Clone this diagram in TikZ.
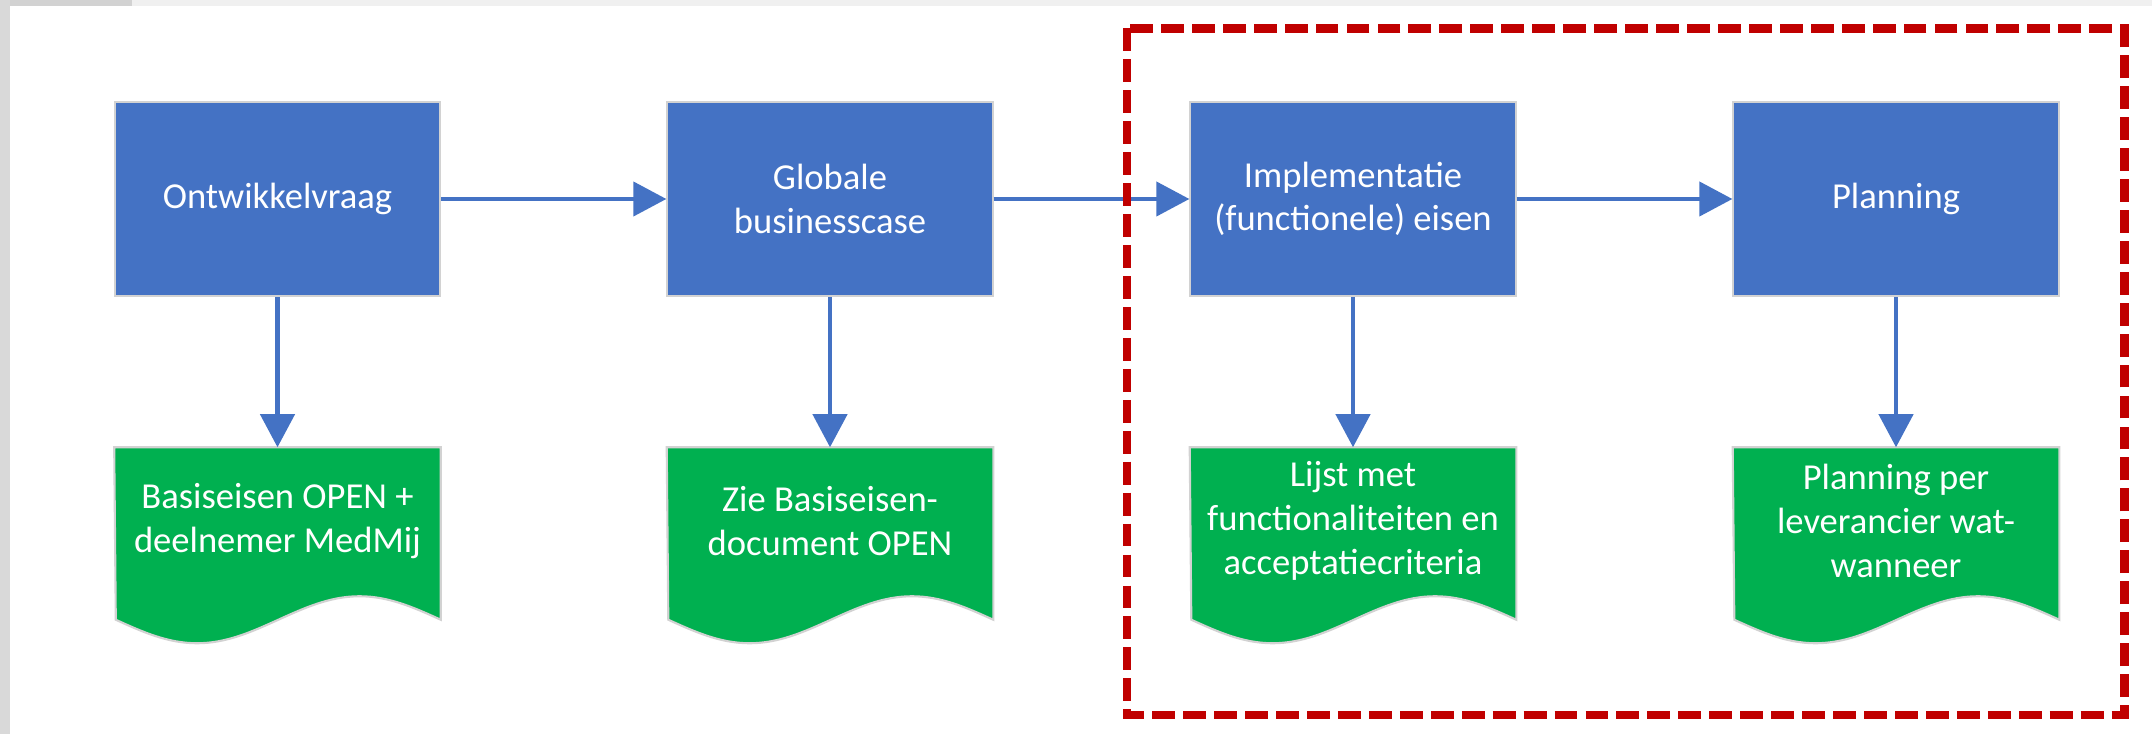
\documentclass[tikz,border=0pt]{standalone}
\usepackage{fontspec}
\setmainfont{Carlito}
\usetikzlibrary{arrows.meta,calc}
\definecolor{obl}{HTML}{4472C4}
\definecolor{ogr}{HTML}{00B050}
\definecolor{ored}{HTML}{C00000}
\begin{document}
\begin{tikzpicture}[x=0.01cm,y=-0.01cm,
  bluebox/.style={fill=obl, draw=gray!35, line width=0.6pt, minimum width=3.25cm,
    minimum height=1.94cm, inner sep=0pt, text=white, align=center,
    font=\fontsize{10.4}{12.4}\selectfont},
  docarea/.style={minimum width=3.25cm, minimum height=1.71cm, inner sep=0pt},
  docfill/.style={fill=ogr, draw=gray!35, line width=0.6pt},
  doctext/.style={text=white, align=center, inner sep=0pt,
    font=\fontsize{10.4}{12.5}\selectfont},
  arr/.style={draw=obl, line width=1.15pt, -{Triangle[length=9.4pt,width=9.7pt]}},
  frame/.style={draw=ored, line width=2.3pt, dash pattern=on 6.5pt off 2.3pt}
]
\useasboundingbox (0,0) rectangle (2152,734);
\fill[white] (0,0) rectangle (2152,734);
\fill[gray!12] (0,0) rectangle (2152,6);
\fill[gray!35] (0,0) rectangle (132,6);
\fill[gray!30] (0,0) rectangle (10,734);

% process boxes
\node[bluebox] (b1) at (277.5,199) {Ontwikkelvraag};
\node[bluebox] (b2) at (830,199) {Globale\\businesscase};
\node[bluebox] (b3) at (1353,199) {Implementatie\\(functionele) eisen};
\node[bluebox] (b4) at (1896,199) {Planning};

% document shapes
\foreach \i/\x in {1/277.5,2/830,3/1353,4/1896}{
  \node[docarea] (d\i) at (\x,533.5) {};
  \path[docfill] (d\i.north west) -- (d\i.north east) -- (d\i.south east)
     sin ++(-81.25,-23.5) cos ++(-81.25,23.5) sin ++(-81.25,23.5) cos ++(-81.25,-23.5) -- cycle;
}
\node[doctext] (t1) at ($(d1.north)+(0,74)$) {Basiseisen OPEN +\\deelnemer MedMij};
\node[doctext] (t2) at ($(d2.north)+(0,74)$) {Zie Basiseisen-\\document OPEN};
\node[doctext] (t3) at ($(d3.north)+(0,74)$) {Lijst met\\functionaliteiten en\\acceptatiecriteria};
\node[doctext] (t4) at ($(d4.north)+(0,74)$) {Planning per\\leverancier wat-\\wanneer};

% connectors
\draw[arr] (b1.east) -- (b2.west);
\draw[arr] (b2.east) -- (b3.west);
\draw[arr] (b3.east) -- (b4.west);
\foreach \i in {1,2,3,4}{
  \draw[arr] (b\i.south) -- (d\i.north);
}

% dashed frame
\draw[frame] (1127,28.5) rectangle (2124.5,715);
\end{tikzpicture}
\end{document}
